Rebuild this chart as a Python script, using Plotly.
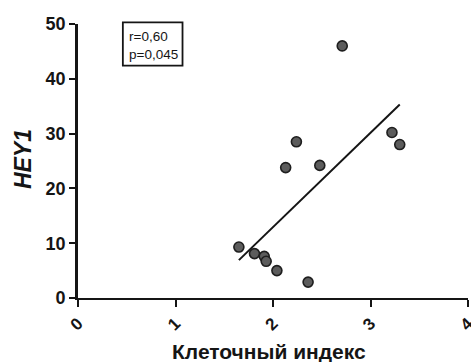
import numpy as np
import plotly.graph_objects as go

# Cell index vs HEY1 expression
cell_index = [1.65, 1.81, 1.91, 1.93, 2.04, 2.36, 2.13, 2.24, 2.48, 2.71, 3.22, 3.30]
hey1 = [9.3, 8.1, 7.6, 6.7, 5.0, 2.9, 23.8, 28.5, 24.2, 46.0, 30.2, 28.0]

x_ticks = [0, 1, 2, 3, 4]
y_ticks = [0, 10, 20, 30, 40, 50]
stats_lines = ["r=0,60", "p=0,045"]

x = np.array(cell_index)
y = np.array(hey1)
slope, intercept = np.polyfit(x, y, 1)
fit_x = np.array([x.min(), x.max()])
fit_y = slope * fit_x + intercept

FONT = "Liberation Sans, Arial, sans-serif"
INK = "#151515"

fig = go.Figure()
fig.add_trace(go.Scatter(
    x=fit_x, y=fit_y, mode="lines",
    line=dict(color=INK, width=2), showlegend=False, hoverinfo="skip",
))
fig.add_trace(go.Scatter(
    x=cell_index, y=hey1, mode="markers",
    marker=dict(size=10, color="#5c5c5c", line=dict(color="#1e1e1e", width=1.6)),
    showlegend=False,
))

fig.update_xaxes(
    range=[0, 4], tickvals=x_ticks, ticktext=[str(v) for v in x_ticks],
    tickangle=-45, ticks="outside", ticklen=7, tickwidth=2, tickcolor=INK,
    showline=True, linecolor=INK, linewidth=2, showgrid=False, zeroline=False,
    ticklabeloverflow="allow", automargin=False,
    tickfont=dict(family=FONT, size=17, color=INK, weight="bold"),
)
fig.update_yaxes(
    range=[0, 50], tickvals=y_ticks, ticks="outside", ticklen=6, tickwidth=2,
    tickcolor=INK, showline=True, linecolor=INK, linewidth=2.6,
    showgrid=False, zeroline=False, automargin=False,
    tickfont=dict(family=FONT, size=18, color=INK, weight="bold"),
)

annotations = [
    dict(text="<b><i>HEY1</i></b>", x=-0.141, y=0.507, xref="paper", yref="paper",
         textangle=-90, showarrow=False, xanchor="center", yanchor="middle",
         font=dict(family=FONT, size=23, color=INK)),
    dict(text="<b>Клеточный индекс</b>", x=0.49, y=-0.197, xref="paper", yref="paper",
         showarrow=False, xanchor="center", yanchor="middle",
         font=dict(family=FONT, size=21, color=INK)),
]
for line, ypos in zip(stats_lines, [0.954, 0.887]):
    annotations.append(dict(
        text=line, x=0.126, y=ypos, xref="paper", yref="paper", showarrow=False,
        xanchor="left", yanchor="middle",
        font=dict(family=FONT, size=13.5, color=INK),
    ))

fig.update_layout(
    width=471, height=362,
    margin=dict(l=78, r=3, t=24, b=64),
    paper_bgcolor="white", plot_bgcolor="white",
    annotations=annotations,
    shapes=[dict(type="rect", xref="paper", yref="paper",
                 x0=0.115, x1=0.268, y0=0.848, y1=1.006,
                 line=dict(color=INK, width=1.8), fillcolor="rgba(0,0,0,0)")],
)

fig.write_html("out.html")
